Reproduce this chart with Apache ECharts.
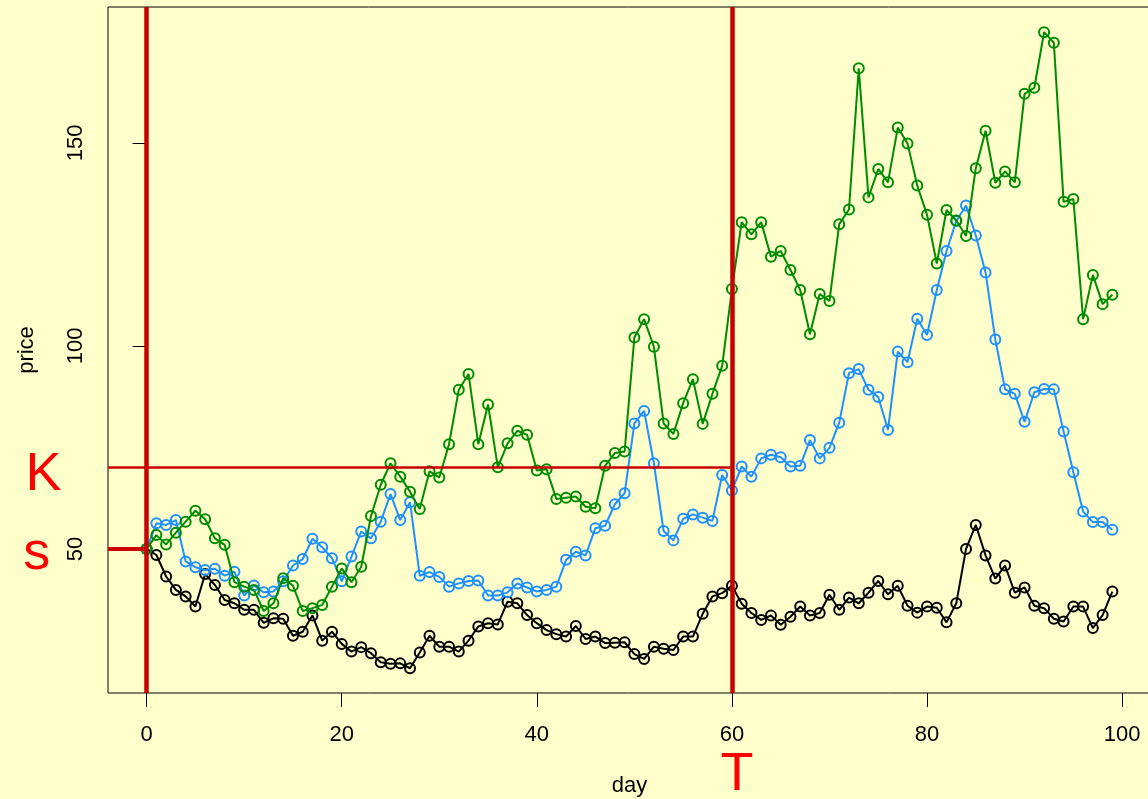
<!DOCTYPE html>
<html>
<head>
<meta charset="utf-8">
<script src="https://cdn.jsdelivr.net/npm/echarts@6/dist/echarts.min.js"></script>
<style>
  html, body { margin: 0; padding: 0; background: #FFFFCC; }
  #chart { width: 1148px; height: 799px; }
</style>
</head>
<body>
<div id="chart"></div>
<script>
// Simulated price paths over 100 days
const days = Array.from({ length: 100 }, (_, i) => i);

const blackPath = [50,48.5,43.2,39.9,38.3,35.8,43.8,41.1,37.4,36.6,
  35.0,35.0,31.8,32.9,32.8,28.6,29.6,33.6,27.4,29.6,
  26.6,24.7,25.8,24.3,22.1,21.7,21.8,20.6,24.5,28.6,
  25.9,25.9,24.7,27.4,30.9,31.7,31.4,37.0,36.6,33.7,
  31.7,30.0,29.0,28.4,31.0,27.8,28.4,26.8,26.9,27.0,
  24.1,22.9,25.9,25.4,25.1,28.4,28.4,34.0,38.3,39.1,
  40.9,36.5,34.2,32.5,33.6,31.3,33.3,35.8,33.6,34.2,
  38.7,35.0,38.0,36.6,39.2,42.1,38.8,40.9,36.0,34.3,
  35.8,35.5,31.9,36.6,50.0,55.9,48.4,42.7,45.9,39.2,
  40.5,36.0,35.4,32.8,32.1,35.8,35.8,30.5,33.7,39.5];

const bluePath = [50,56.3,55.9,57.1,46.9,45.5,44.8,45.1,43.4,44.4,
  38.5,41.0,39.3,39.5,42.0,45.9,47.5,52.5,50.4,47.7,
  42.0,48.1,54.3,52.6,56.7,63.5,57.1,61.5,43.4,44.3,
  43.1,40.7,41.5,42.1,42.2,38.5,38.5,39.3,41.5,40.5,
  39.5,39.9,40.7,47.3,49.3,48.4,55.1,55.7,61.0,63.7,
  80.9,84.0,71.1,54.4,52.1,57.4,58.5,57.7,56.9,68.2,
  64.4,70.3,67.8,72.3,73.2,72.6,70.3,70.5,76.8,72.3,
  74.9,81.1,93.3,94.3,89.2,87.4,79.3,98.6,96.0,106.7,
  102.7,113.8,123.4,130.8,134.6,127.2,118.1,101.6,89.3,88.2,
  81.3,88.6,89.4,89.3,78.9,68.9,59.2,56.6,56.6,54.7];

const greenPath = [50,53.4,51.1,54.0,56.7,59.4,57.3,52.6,51.0,41.8,
  40.7,39.9,34.7,36.6,42.8,40.9,34.7,35.4,36.2,40.7,
  45.2,41.8,45.6,58.1,65.8,71.1,67.8,64.1,59.8,69.1,
  67.6,75.8,89.2,93.1,75.8,85.6,70.1,76.0,79.1,78.1,
  69.3,69.6,62.3,62.6,62.9,60.4,60.0,70.5,73.6,74.0,
  102.1,106.6,99.8,80.9,78.3,85.9,91.8,80.8,88.2,95.1,
  114.0,130.5,127.5,130.5,122.0,123.4,118.7,113.8,102.9,112.8,
  111.1,130.0,133.6,168.4,136.6,143.6,140.3,153.8,149.9,139.5,
  132.3,120.3,133.5,130.9,127.1,143.8,153.0,140.2,143.0,140.3,
  162.1,163.6,177.3,174.7,135.5,136.2,106.6,117.5,110.3,112.6];

const xTicks = [0, 20, 40, 60, 80, 100];
const yTicks = [50, 100, 150];

// Option parameters
const spot = 50;      // s
const strike = 70;    // K
const maturity = 60;  // T

const xMin = -3.96, xMax = 102.96;
const yMin = 14.5, yMax = 183.5;

const FONT = '"Liberation Sans", Arial, Helvetica, sans-serif';
const LINE_RED = '#C80000';
const TEXT_RED = '#FF0000';

// Line with open (hollow, see-through) circles at every point
function pathSeries(name, values, color, z) {
  return {
    name, type: 'line', z,
    data: days.map((d, i) => [d, values[i]]),
    symbol: 'circle', symbolSize: 10, showAllSymbol: true,
    lineStyle: { color, width: 2 },
    itemStyle: { color: 'rgba(0,0,0,0)', borderColor: color, borderWidth: 2 },
    emphasis: { disabled: true },
    animation: false
  };
}

const chart = echarts.init(document.getElementById('chart'), null, { renderer: 'canvas' });

chart.setOption({
  backgroundColor: '#FFFFCC',
  animation: false,
  textStyle: { fontFamily: FONT },
  grid: {
    left: 108, top: 7, right: -3, bottom: 106,
    outerBoundsMode: 'none', containLabel: false,
    show: true, borderColor: '#000', borderWidth: 1, backgroundColor: 'transparent'
  },
  xAxis: {
    type: 'value', min: xMin, max: xMax,
    name: 'day', nameLocation: 'middle', nameGap: 82,
    nameTextStyle: { fontSize: 22, color: '#000', fontFamily: FONT },
    axisLine: { show: false },
    splitLine: { show: false },
    axisTick: { show: true, length: 14, customValues: xTicks, lineStyle: { color: '#000', width: 1 } },
    axisLabel: { customValues: xTicks, fontSize: 22, color: '#000', margin: 31, fontFamily: FONT }
  },
  yAxis: {
    type: 'value', min: yMin, max: yMax,
    name: 'price', nameLocation: 'middle', nameGap: 70,
    nameTextStyle: { fontSize: 22, color: '#000', fontFamily: FONT },
    axisLine: { show: false },
    splitLine: { show: false },
    axisTick: { show: true, length: 14, customValues: yTicks, lineStyle: { color: '#000', width: 1 } },
    axisLabel: { customValues: yTicks, fontSize: 22, color: '#000', margin: 21, rotate: 90, fontFamily: FONT }
  },
  series: [
    {
      name: 'guides', type: 'line', data: [], z: 1, silent: true,
      markLine: {
        silent: true, symbol: 'none', animation: false,
        label: { show: false },
        data: [
          [{ coord: [0, yMax], lineStyle: { width: 4.5 } }, { coord: [0, yMin] }],
          [{ coord: [maturity, yMax], lineStyle: { width: 4.5 } }, { coord: [maturity, yMin] }],
          [{ coord: [xMin, strike], lineStyle: { width: 2.5 } }, { coord: [maturity, strike] }],
          [{ coord: [xMin, spot], lineStyle: { width: 4 } }, { coord: [0, spot] }]
        ],
        lineStyle: { color: LINE_RED, type: 'solid' }
      }
    },
    pathSeries('black', blackPath, '#000000', 2),
    pathSeries('blue', bluePath, '#1E90FF', 3),
    pathSeries('green', greenPath, '#008B00', 4)
  ]
});

// Red letter annotations placed relative to the parameter positions on the axes
const toPx = (x, y) => chart.convertToPixel({ xAxisIndex: 0, yAxisIndex: 0 }, [x, y]);
const pK = toPx(0, strike);
const pS = toPx(0, spot);
const pT = toPx(maturity, yMin);
const letter = (text, x, y) => ({
  type: 'text', x, y, silent: true,
  style: { text, fill: TEXT_RED, font: '54px ' + FONT, textAlign: 'center', textVerticalAlign: 'middle' }
});
chart.setOption({
  graphic: [
    letter('K', pK[0] - 103, pK[1] + 7),
    letter('s', pS[0] - 110, pS[1] + 5),
    letter('T', pT[0] + 5, pT[1] + 82)
  ]
});
</script>
</body>
</html>
